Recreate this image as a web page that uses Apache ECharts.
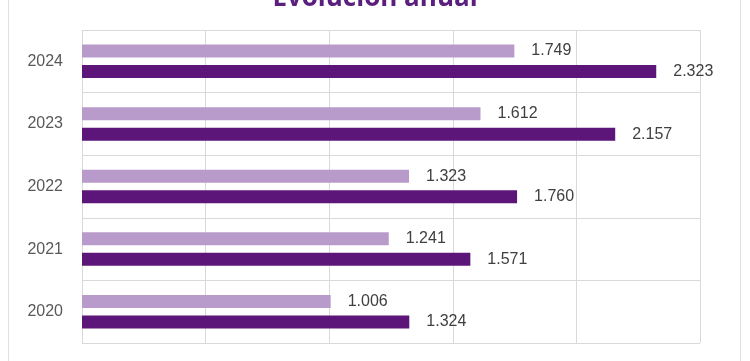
<!DOCTYPE html>
<html><head><meta charset="utf-8">
<script src="https://cdn.jsdelivr.net/npm/echarts@6/dist/echarts.min.js"></script>
<style>html,body{margin:0;padding:0;background:#fff}#c{width:750px;height:361px}</style>
</head><body><div id="c"></div>
<script>
const title = 'Evolución anual';
const years = ['2020', '2021', '2022', '2023', '2024'];
const seriesLight = [1006, 1241, 1323, 1612, 1749];
const seriesDark = [1324, 1571, 1760, 2157, 2323];
const fmt = v => String(v).replace(/\B(?=(\d{3})+(?!\d))/g, '.');
const chart = echarts.init(document.getElementById('c'), null, {renderer: 'canvas'});
const FF = 'Liberation Sans, Arial, sans-serif';
const lbl = {show: true, position: 'right', distance: 17, color: '#404040', fontSize: 16,
  fontFamily: FF, formatter: p => fmt(p.value)};
chart.setOption({
  animation: false,
  title: {text: title, left: 'center', top: -19,
    textStyle: {color: '#5B1F7E', fontSize: 26, fontWeight: 'bold', fontFamily: 'Open Sans, sans-serif'}},
  graphic: [{type: 'rect', shape: {x: 8.5, y: -10, width: 732, height: 380}, silent: true,
    style: {fill: 'none', stroke: '#e0e0e0', lineWidth: 1}}],
  grid: {left: 82, right: 50, top: 30, bottom: 18},
  xAxis: {type: 'value', min: 0, max: 2500, interval: 500,
    axisLabel: {show: false}, axisLine: {show: false}, axisTick: {show: false},
    splitLine: {show: true, lineStyle: {color: '#d9d9d9', width: 1}}},
  yAxis: {type: 'category', data: years,
    axisLine: {show: false}, axisTick: {show: false},
    axisLabel: {color: '#595959', fontSize: 16, margin: 19, fontFamily: FF},
    splitLine: {show: true, lineStyle: {color: '#d9d9d9', width: 1}}},
  series: [
    {name: 'a', type: 'bar', data: seriesLight, barWidth: 13, barGap: '58%', itemStyle: {color: '#B99BCB'}, label: lbl},
    {name: 'b', type: 'bar', data: seriesDark, barWidth: 13, itemStyle: {color: '#5C1679'}, label: lbl}
  ]
});
</script></body></html>
